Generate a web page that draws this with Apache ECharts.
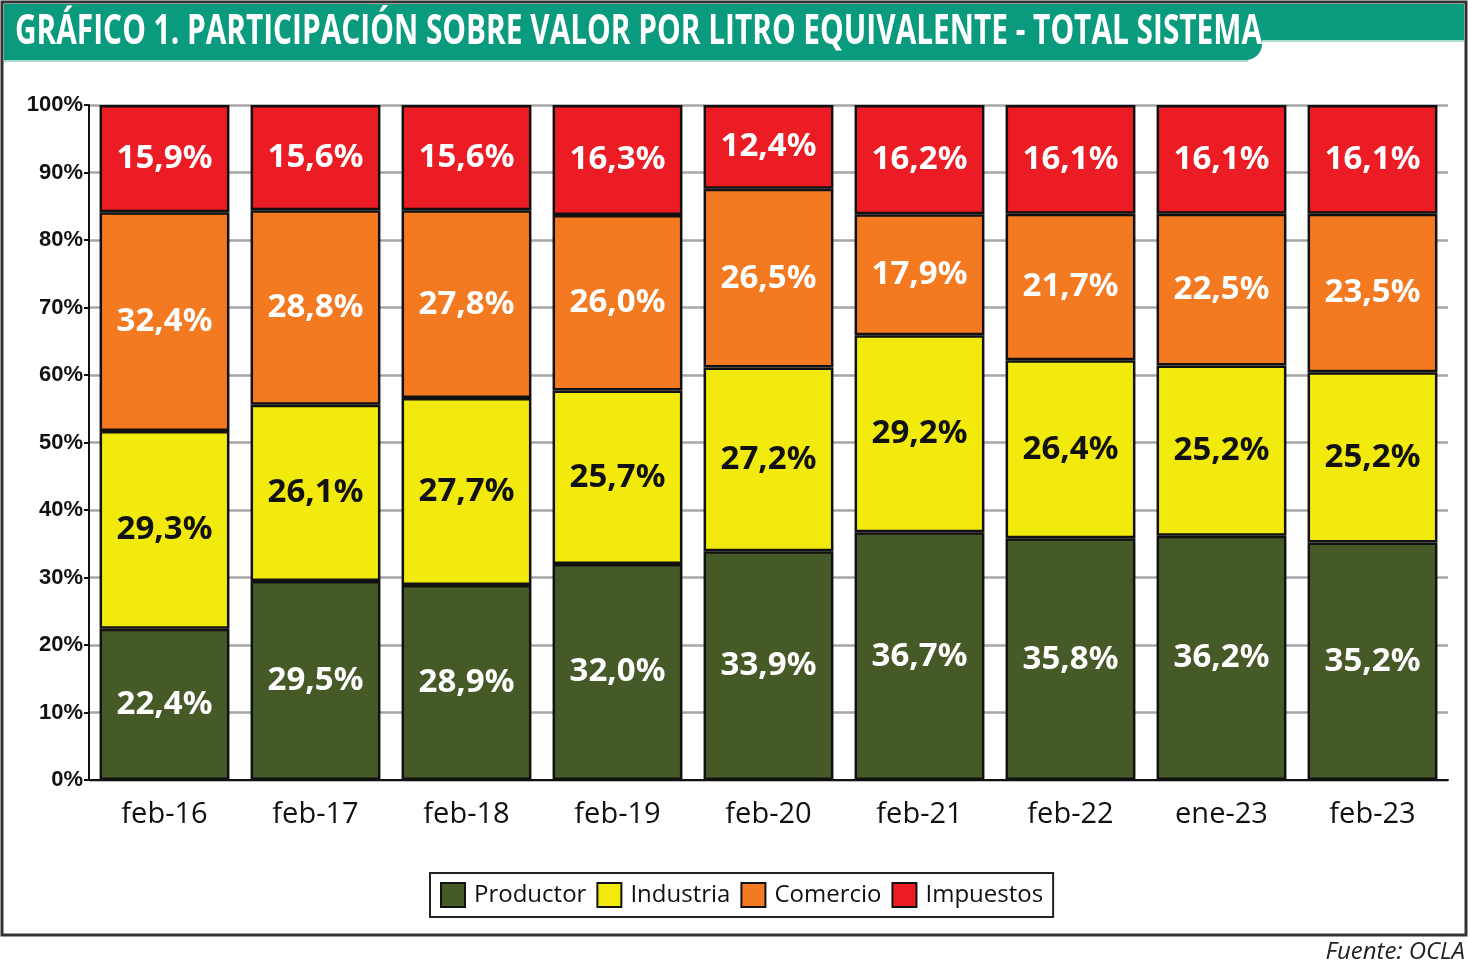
<!DOCTYPE html>
<html>
<head>
<meta charset="utf-8">
<script src="https://cdn.jsdelivr.net/npm/echarts@6/dist/echarts.min.js"></script>
<style>
html,body{margin:0;padding:0;background:#fff;}
#chart{width:1468px;height:966px;}
</style>
</head>
<body>
<div id="chart"></div>
<script>
const categories = ['feb-16','feb-17','feb-18','feb-19','feb-20','feb-21','feb-22','ene-23','feb-23'];
const productor = [22.4,29.5,28.9,32.0,33.9,36.7,35.8,36.2,35.2];
const industria = [29.3,26.1,27.7,25.7,27.2,29.2,26.4,25.2,25.2];
const comercio  = [32.4,28.8,27.8,26.0,26.5,17.9,21.7,22.5,23.5];
const impuestos = [15.9,15.6,15.6,16.3,12.4,16.2,16.1,16.1,16.1];
const seriesNames = ['Productor','Industria','Comercio','Impuestos'];
const titleText = 'GRÁFICO 1. PARTICIPACIÓN SOBRE VALOR POR LITRO EQUIVALENTE - TOTAL SISTEMA';
const sourceText = 'Fuente: OCLA';

const colors = ['#465A28','#F1EA0C','#F37A21','#EC1C24'];
const labelColors = ['#ffffff','#111111','#ffffff','#ffffff'];
const dataSets = [productor, industria, comercio, impuestos];

const titleFont = 'bold 42px "Liberation Sans Narrow", "Open Sans", sans-serif';
const cv = document.createElement('canvas').getContext('2d');
cv.font = titleFont;
const tw = cv.measureText(titleText).width;
const titleScale = 1247 / tw;

const fmt = v => v.toFixed(1).replace('.', ',') + '%';

const chart = echarts.init(document.getElementById('chart'), null, {renderer:'canvas'});
chart.setOption({
  backgroundColor:'#ffffff',
  animation:false,
  grid:{left:89, right:20, top:105, bottom:186, containLabel:false},
  xAxis:{
    type:'category',
    data:categories,
    axisLine:{show:true, lineStyle:{color:'#111', width:2}},
    axisTick:{show:false},
    axisLabel:{color:'#111', fontFamily:'"Open Sans", sans-serif', fontSize:29, margin:20}
  },
  yAxis:{
    type:'value', min:0, max:100, interval:10,
    axisLine:{show:true, lineStyle:{color:'#111', width:2}},
    axisTick:{show:true, length:5, lineStyle:{color:'#111', width:2}},
    axisLabel:{color:'#111', fontFamily:'"Liberation Sans", sans-serif', fontWeight:'bold', fontSize:22, margin:6,
      formatter: v => v + '%'},
    splitLine:{show:true, lineStyle:{color:'#A6A6A6', width:2.5}}
  },
  legend:{
    data:seriesNames,
    top:873, left:430,
    orient:'horizontal',
    borderColor:'#222', borderWidth:2,
    padding:[9,10,9,10],
    itemWidth:24, itemHeight:24, itemGap:10,
    textStyle:{color:'#111', fontFamily:'"Open Sans", sans-serif', fontSize:24, padding:[0,0,0,4]},
    icon:'rect'
  },
  series: seriesNames.map((name,i)=>({
    name, type:'bar', stack:'total',
    data:dataSets[i],
    barCategoryGap:'14%',
    itemStyle:{color:colors[i], borderColor:'#111', borderWidth:2.5},
    label:{show:true, position:'inside', color:labelColors[i],
      fontFamily:'"Noto Sans", sans-serif', fontWeight:'bold', fontSize:33,
      formatter: p => fmt(p.value)}
  })),
  graphic:[
    {type:'rect', shape:{x:2, y:2, width:1464, height:933}, style:{fill:'none', stroke:'#333', lineWidth:3}, z:-1},
    {type:'rect', shape:{x:4, y:4, width:1460, height:36}, style:{fill:'#0A9B7E'}},
    {type:'line', shape:{x1:1250, y1:41, x2:1464, y2:41}, style:{stroke:'#A8DCCD', lineWidth:2}},
    {type:'rect', shape:{x:4, y:4, width:1258, height:56, r:[0,0,16,0]}, style:{fill:'#0A9B7E'}},
    {type:'line', shape:{x1:4, y1:61, x2:1248, y2:61}, style:{stroke:'#A8DCCD', lineWidth:2}},
    {type:'text', x:15, y:11, scaleX:titleScale, style:{text:titleText, fill:'#ffffff', font:titleFont}},
    {type:'text', right:3, top:940, style:{text:sourceText, fill:'#222', font:'italic 24px "Open Sans", sans-serif'}}
  ]
});
</script>
</body>
</html>
